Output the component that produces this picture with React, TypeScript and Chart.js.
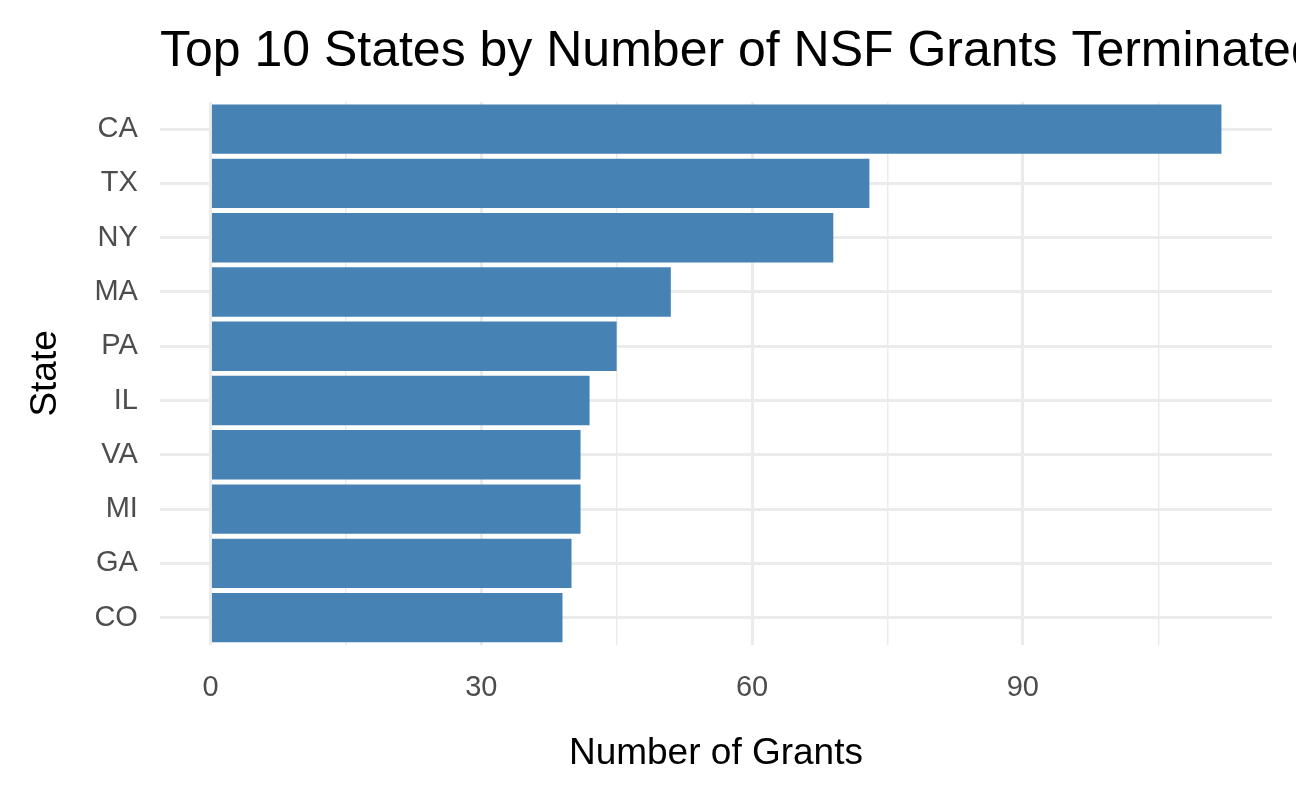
import React, { useEffect, useRef } from "react";
import { Chart, registerables } from "chart.js";

Chart.register(...registerables);

const states = ["CA", "TX", "NY", "MA", "PA", "IL", "VA", "MI", "GA", "CO"];
const grants = [112, 73, 69, 51, 45, 42, 41, 41, 40, 39];
const majorTicks = [0, 30, 60, 90];
const titleText = "Top 10 States by Number of NSF Grants Terminated";

const FONT = "'Liberation Sans', Arial, sans-serif";

// title left-aligned to the panel, allowed to run off the canvas like the original
const leftTitle = {
    id: "leftTitle",
    afterDraw(chart: Chart) {
        const { ctx, chartArea } = chart;
        ctx.save();
        ctx.fillStyle = "#000";
        ctx.font = `50px ${FONT}`;
        ctx.textBaseline = "alphabetic";
        ctx.textAlign = "left";
        ctx.fillText(titleText, chartArea.left, 66);
        ctx.restore();
    },
};

export default function App() {
    const ref = useRef<HTMLCanvasElement | null>(null);

    useEffect(() => {
        document.body.style.margin = "0";
        if (!ref.current) return;

        const chart = new Chart(ref.current, {
            type: "bar",
            data: {
                labels: states,
                datasets: [
                    {
                        data: grants,
                        backgroundColor: "#4682B4",
                        categoryPercentage: 0.91,
                        barPercentage: 1,
                    },
                ],
            },
            plugins: [leftTitle],
            options: {
                indexAxis: "y",
                responsive: false,
                devicePixelRatio: 1,
                animation: false,
                layout: { padding: { top: 102, left: 20, right: 24, bottom: 26 } },
                plugins: {
                    legend: { display: false },
                    tooltip: { enabled: false },
                    title: { display: false },
                },
                scales: {
                    x: {
                        min: -5.6,
                        max: 117.6,
                        afterBuildTicks: (axis) => {
                            axis.ticks = [0, 15, 30, 45, 60, 75, 90, 105].map((v) => ({ value: v }));
                        },
                        border: { display: false },
                        grid: {
                            color: "#ebebeb",
                            lineWidth: (ctx) =>
                                majorTicks.includes(ctx.tick?.value as number) ? 3 : 1.5,
                            drawTicks: false,
                        },
                        ticks: {
                            color: "#4d4d4d",
                            font: { family: FONT, size: 29 },
                            padding: 26,
                            callback: (v) =>
                                majorTicks.includes(Number(v)) ? String(v) : "",
                        },
                        title: {
                            display: true,
                            text: "Number of Grants",
                            color: "#000",
                            font: { family: FONT, size: 37 },
                            padding: { top: 0 },
                        },
                    },
                    y: {
                        border: { display: false },
                        grid: {
                            color: "#ebebeb",
                            lineWidth: 3,
                            offset: false,
                            drawTicks: false,
                        },
                        ticks: {
                            color: "#4d4d4d",
                            font: { family: FONT, size: 29 },
                            padding: 22,
                        },
                        title: {
                            display: true,
                            text: "State",
                            color: "#000",
                            font: { family: FONT, size: 37 },
                            padding: { bottom: 4 },
                        },
                    },
                },
            },
        });

        return () => chart.destroy();
    }, []);

    return <canvas ref={ref} width={1296} height={806} />;
}
